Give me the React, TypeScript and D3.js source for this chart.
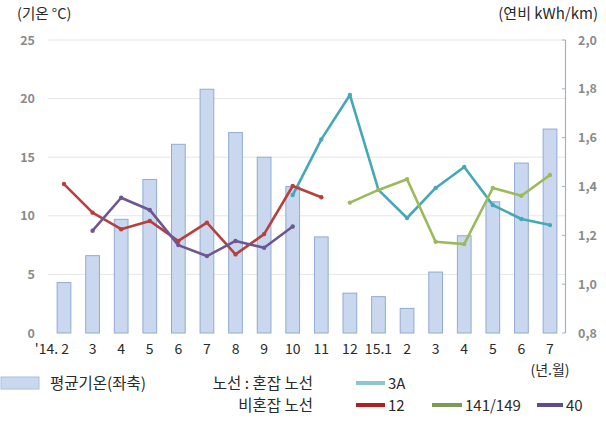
import React from "react";
import * as d3 from "d3";

const categories = ["'14. 2", "3", "4", "5", "6", "7", "8", "9", "10", "11", "12", "15.1", "2", "3", "4", "5", "6", "7"];
const temperature = [4.3, 6.6, 9.7, 13.1, 16.1, 20.8, 17.1, 15.0, 12.5, 8.2, 3.4, 3.1, 2.1, 5.2, 8.3, 11.2, 14.5, 17.4];
const line3A: (number | null)[] = [null, null, null, null, null, null, null, null, 1.365, 1.593, 1.775, 1.386, 1.271, 1.394, 1.48, 1.324, 1.267, 1.242];
const line12: (number | null)[] = [1.41, 1.293, 1.225, 1.259, 1.177, 1.252, 1.122, 1.205, 1.402, 1.356, null, null, null, null, null, null, null, null];
const line141: (number | null)[] = [null, null, null, null, null, null, null, null, null, null, 1.334, 1.386, 1.43, 1.174, 1.164, 1.394, 1.362, 1.447];
const line40: (number | null)[] = [null, 1.219, 1.354, 1.304, 1.16, 1.115, 1.177, 1.149, 1.236, null, null, null, null, null, null, null, null, null];
const leftTicks = [0, 5, 10, 15, 20, 25];
const rightTicks = [0.8, 1.0, 1.2, 1.4, 1.6, 1.8, 2.0];

const series = [
  { name: "3A", values: line3A, color: "#45a8b8" },
  { name: "12", values: line12, color: "#b5403e" },
  { name: "141/149", values: line141, color: "#9cba5a" },
  { name: "40", values: line40, color: "#6e5693" },
];

const W = 606, H = 423;
const FONT = "'Noto Sans CJK KR', 'Noto Sans', sans-serif";
const TXT = "#2a2a2a";

export default function App() {
  const x = d3.scaleBand<number>().domain(d3.range(categories.length)).range([49.7, 564.3]).paddingInner(0.52).paddingOuter(0.26);
  const cx = (i: number) => (x(i) as number) + x.bandwidth() / 2;
  const yL = d3.scaleLinear().domain([0, 25]).range([333, 40]);
  const yR = d3.scaleLinear().domain([0.8, 2.0]).range([333, 40]);
  const lineGen = d3.line<number | null>().defined((d) => d != null).x((_, i) => cx(i)).y((d) => yR(d as number));
  const fmtR = (v: number) => v.toFixed(1).replace(".", ",");

  return (
    <svg width={W} height={H} style={{ position: "absolute", left: 0, top: 0, background: "#fff" }} fontFamily={FONT}>
      <text x={17} y={19} fontSize={14.5} fill={TXT}>(기온 °C)</text>
      <text x={598} y={19} fontSize={15} fill={TXT} textAnchor="end">(연비 kWh/km)</text>
      {leftTicks.map((t) => (
        <g key={t}>
          {t > 0 && <line x1={48} x2={565} y1={yL(t)} y2={yL(t)} stroke="#e6e6e6" strokeWidth={1} />}
          <text x={35} y={yL(t) + 4.5} fontSize={12.5} fill="#8a8a8a" fontWeight="bold" textAnchor="end">{t}</text>
        </g>
      ))}
      {temperature.map((v, i) => (
        <rect key={i} x={x(i)} y={yL(v)} width={x.bandwidth()} height={yL(0) - yL(v)} fill="#c9d8ee" stroke="#91abd3" strokeWidth={1} />
      ))}
      <line x1={565.5} x2={565.5} y1={40} y2={333} stroke="#9fb3c4" strokeWidth={1.2} />
      {rightTicks.map((t) => (
        <g key={t}>
          <line x1={562} x2={565.5} y1={yR(t)} y2={yR(t)} stroke="#9fb3c4" />
          <text x={578} y={yR(t) + 4.5} fontSize={12.5} fill="#8a8a8a" fontWeight="bold">{fmtR(t)}</text>
        </g>
      ))}
      {series.map((s) => (
        <g key={s.name}>
          <path d={lineGen(s.values) || ""} fill="none" stroke={s.color} strokeWidth={2.6} strokeLinejoin="round" />
          {s.values.map((v, i) => v != null && <circle key={i} cx={cx(i)} cy={yR(v)} r={2.2} fill={s.color} />)}
        </g>
      ))}
      {categories.map((c, i) => (
        <text key={i} x={i === 0 ? cx(i) + 5 : cx(i)} y={354} fontSize={14} fill={TXT} textAnchor={i === 0 ? "end" : "middle"}>{c}</text>
      ))}
      <text x={550} y={375} fontSize={14} fill={TXT} textAnchor="middle">(년.월)</text>
      <rect x={1} y={377} width={38} height={12} fill="#c9d8ee" stroke="#a8bedf" />
      <text x={50} y={389} fontSize={15.5} fill={TXT}>평균기온(좌축)</text>
      <text x={313} y={389} fontSize={15.5} fill={TXT} textAnchor="end">노선 : 혼잡 노선</text>
      <text x={313} y={411} fontSize={15.5} fill={TXT} textAnchor="end">비혼잡 노선</text>
      <line x1={356} x2={385} y1={383} y2={383} stroke="#8cc6d4" strokeWidth={4} />
      <text x={388} y={389} fontSize={15} fill={TXT}>3A</text>
      <line x1={356} x2={385} y1={405} y2={405} stroke="#b02020" strokeWidth={4} />
      <text x={388} y={411} fontSize={15} fill={TXT}>12</text>
      <line x1={432} x2={462} y1={405} y2={405} stroke="#7d9a52" strokeWidth={4} />
      <text x={465} y={411} fontSize={15} fill={TXT}>141/149</text>
      <line x1={537} x2={563} y1={405} y2={405} stroke="#5f4d87" strokeWidth={4} />
      <text x={566} y={411} fontSize={15} fill={TXT}>40</text>
    </svg>
  );
}
